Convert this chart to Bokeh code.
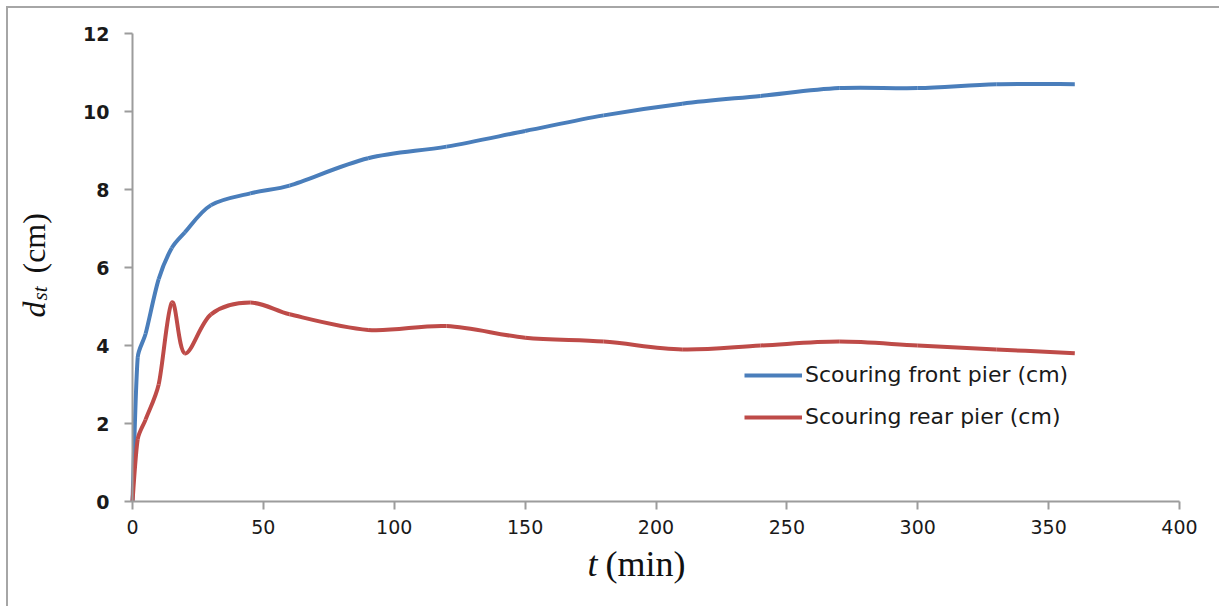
import numpy as np
from bokeh.plotting import figure
from bokeh.models import (Label, Legend, LegendItem, FixedTicker, ColumnDataSource,
                          LinearAxis, Range1d)
from bokeh.embed import file_html
from bokeh.resources import INLINE

# Scour depth measured over time (minutes, cm)
t_front = [0, 2, 5, 10, 15, 20, 30, 45, 60, 90, 120, 150, 180, 210, 240, 270, 300, 330, 360]
d_front = [0, 3.7, 4.3, 5.7, 6.5, 6.9, 7.6, 7.9, 8.1, 8.8, 9.1, 9.5, 9.9, 10.2, 10.4, 10.6, 10.6, 10.7, 10.7]

t_rear = [0, 2, 5, 10, 15, 20, 30, 45, 60, 90, 120, 150, 180, 210, 240, 270, 300, 330, 360]
d_rear = [0, 1.6, 2.1, 3.0, 5.1, 3.8, 4.8, 5.1, 4.8, 4.4, 4.5, 4.2, 4.1, 3.9, 4.0, 4.1, 4.0, 3.9, 3.8]

series_names = ["Scouring front pier (cm)", "Scouring rear pier (cm)"]
series_colors = ["#4a7ebb", "#be4b48"]

x_ticks = [0, 50, 100, 150, 200, 250, 300, 350, 400]
y_ticks = [0, 2, 4, 6, 8, 10, 12]
X_MAX, Y_MAX = 400, 12

# canvas geometry: the plotting area spans the whole canvas and the axes are
# pinned at t = 0 and d = 0
W, H = 1213, 600
PAD = 6                      # offset of the canvas inside the page
X0_PX, X1_PX = 130, 1177     # page pixels of t = 0 and t = 400
Y0_PX, Y1_PX = 499, 31       # page pixels of d = 0 and d = 12
KX = (X1_PX - X0_PX) / X_MAX
KY = (Y0_PX - Y1_PX) / Y_MAX


def px_x(px):
    return (px - X0_PX) / KX


def px_y(py):
    return (Y0_PX - py) / KY


def smooth_segments(xs, ys):
    """Catmull-Rom style Bezier segments through the measured points,
    with handles capped at a third of each segment to avoid overshoot."""
    P = np.column_stack([np.asarray(xs, float) * KX, np.asarray(ys, float) * KY])
    n = len(P)
    T = np.zeros_like(P)
    for i in range(n):
        a = P[max(i - 1, 0)]
        b = P[min(i + 1, n - 1)]
        T[i] = (b - a) / 6.0

    def capped(t, length):
        m = np.hypot(*t)
        lim = length / 3.0
        return t * (lim / m) if m > lim else t

    x0, y0, x1, y1, cx0, cy0, cx1, cy1 = ([] for _ in range(8))
    for i in range(n - 1):
        seg = np.hypot(*(P[i + 1] - P[i]))
        c0 = P[i] + capped(T[i], seg)
        c1 = P[i + 1] - capped(T[i + 1], seg)
        x0.append(P[i][0] / KX); y0.append(P[i][1] / KY)
        x1.append(P[i + 1][0] / KX); y1.append(P[i + 1][1] / KY)
        cx0.append(c0[0] / KX); cy0.append(c0[1] / KY)
        cx1.append(c1[0] / KX); cy1.append(c1[1] / KY)
    return dict(x0=x0, y0=y0, x1=x1, y1=y1, cx0=cx0, cy0=cy0, cx1=cx1, cy1=cy1)


p = figure(width=W, height=H,
           x_range=Range1d(px_x(PAD), px_x(PAD + W)),
           y_range=Range1d(px_y(PAD + H), px_y(PAD)),
           x_axis_location=None, y_axis_location=None,
           output_backend="svg", toolbar_location=None,
           min_border=0)
p.margin = (PAD, 0, 0, PAD)
p.styles = {"border-left": "2px solid #a6a6a6", "border-top": "2px solid #a6a6a6",
            "box-sizing": "border-box"}
p.outline_line_color = None
p.background_fill_color = "white"
p.border_fill_color = "white"
p.grid.visible = False

xaxis = LinearAxis(fixed_location=0, bounds=(0, X_MAX), ticker=FixedTicker(ticks=x_ticks))
yaxis = LinearAxis(fixed_location=0, bounds=(0, Y_MAX), ticker=FixedTicker(ticks=y_ticks))
for ax in (xaxis, yaxis):
    ax.axis_line_color = "#9c9c9c"
    ax.axis_line_width = 2
    ax.major_tick_line_color = "#9c9c9c"
    ax.major_tick_line_width = 2
    ax.major_tick_in = 0
    ax.major_tick_out = 8
    ax.minor_tick_line_color = None
    ax.major_label_text_color = "#1a1a1a"
    ax.major_label_text_font = "DejaVu Sans"
xaxis.major_label_text_font_size = "19px"
xaxis.major_label_standoff = 10
yaxis.major_label_text_font_style = "bold"
yaxis.major_label_text_font_size = "19px"
yaxis.major_label_standoff = 15
p.add_layout(xaxis, "below")
p.add_layout(yaxis, "left")

items = []
for xs, ys, name, color in ((t_front, d_front, series_names[0], series_colors[0]),
                            (t_rear, d_rear, series_names[1], series_colors[1])):
    src = ColumnDataSource(smooth_segments(xs, ys))
    r = p.bezier(x0="x0", y0="y0", x1="x1", y1="y1", cx0="cx0", cy0="cy0",
                 cx1="cx1", cy1="cy1", source=src, line_color=color, line_width=4)
    items.append(LegendItem(label=name, renderers=[r], index=0))

legend = Legend(items=items, location=(X0_PX - PAD + 612, H - (Y0_PX - PAD) + 72),
                orientation="vertical",
                glyph_width=58, glyph_height=20, label_height=20,
                label_standoff=3, spacing=17, padding=0, margin=0,
                border_line_color=None, background_fill_alpha=0,
                label_text_font="DejaVu Sans", label_text_font_size="22px",
                label_text_color="#1a1a1a")
p.add_layout(legend)

# axis titles with an italic symbol and a subscript
title_style = dict(text_font="Liberation Serif", text_color="#111111",
                   text_baseline="alphabetic", text_align="left")
p.add_layout(Label(x=px_x(585), y=px_y(561), text="t", text_font_style="italic",
                   text_font_size="36px", **title_style))
p.add_layout(Label(x=px_x(603), y=px_y(561), text="(min)",
                   text_font_size="36px", **title_style))

p.add_layout(Label(x=px_x(31), y=px_y(315), text="d", angle=np.pi / 2,
                   text_font_style="italic", text_font_size="32px", **title_style))
p.add_layout(Label(x=px_x(37), y=px_y(298), text="st", angle=np.pi / 2,
                   text_font_style="italic", text_font_size="21px", **title_style))
p.add_layout(Label(x=px_x(31), y=px_y(271), text="(cm)", angle=np.pi / 2,
                   text_font_size="32px", **title_style))

open("out.html", "w").write(file_html(p, INLINE))
